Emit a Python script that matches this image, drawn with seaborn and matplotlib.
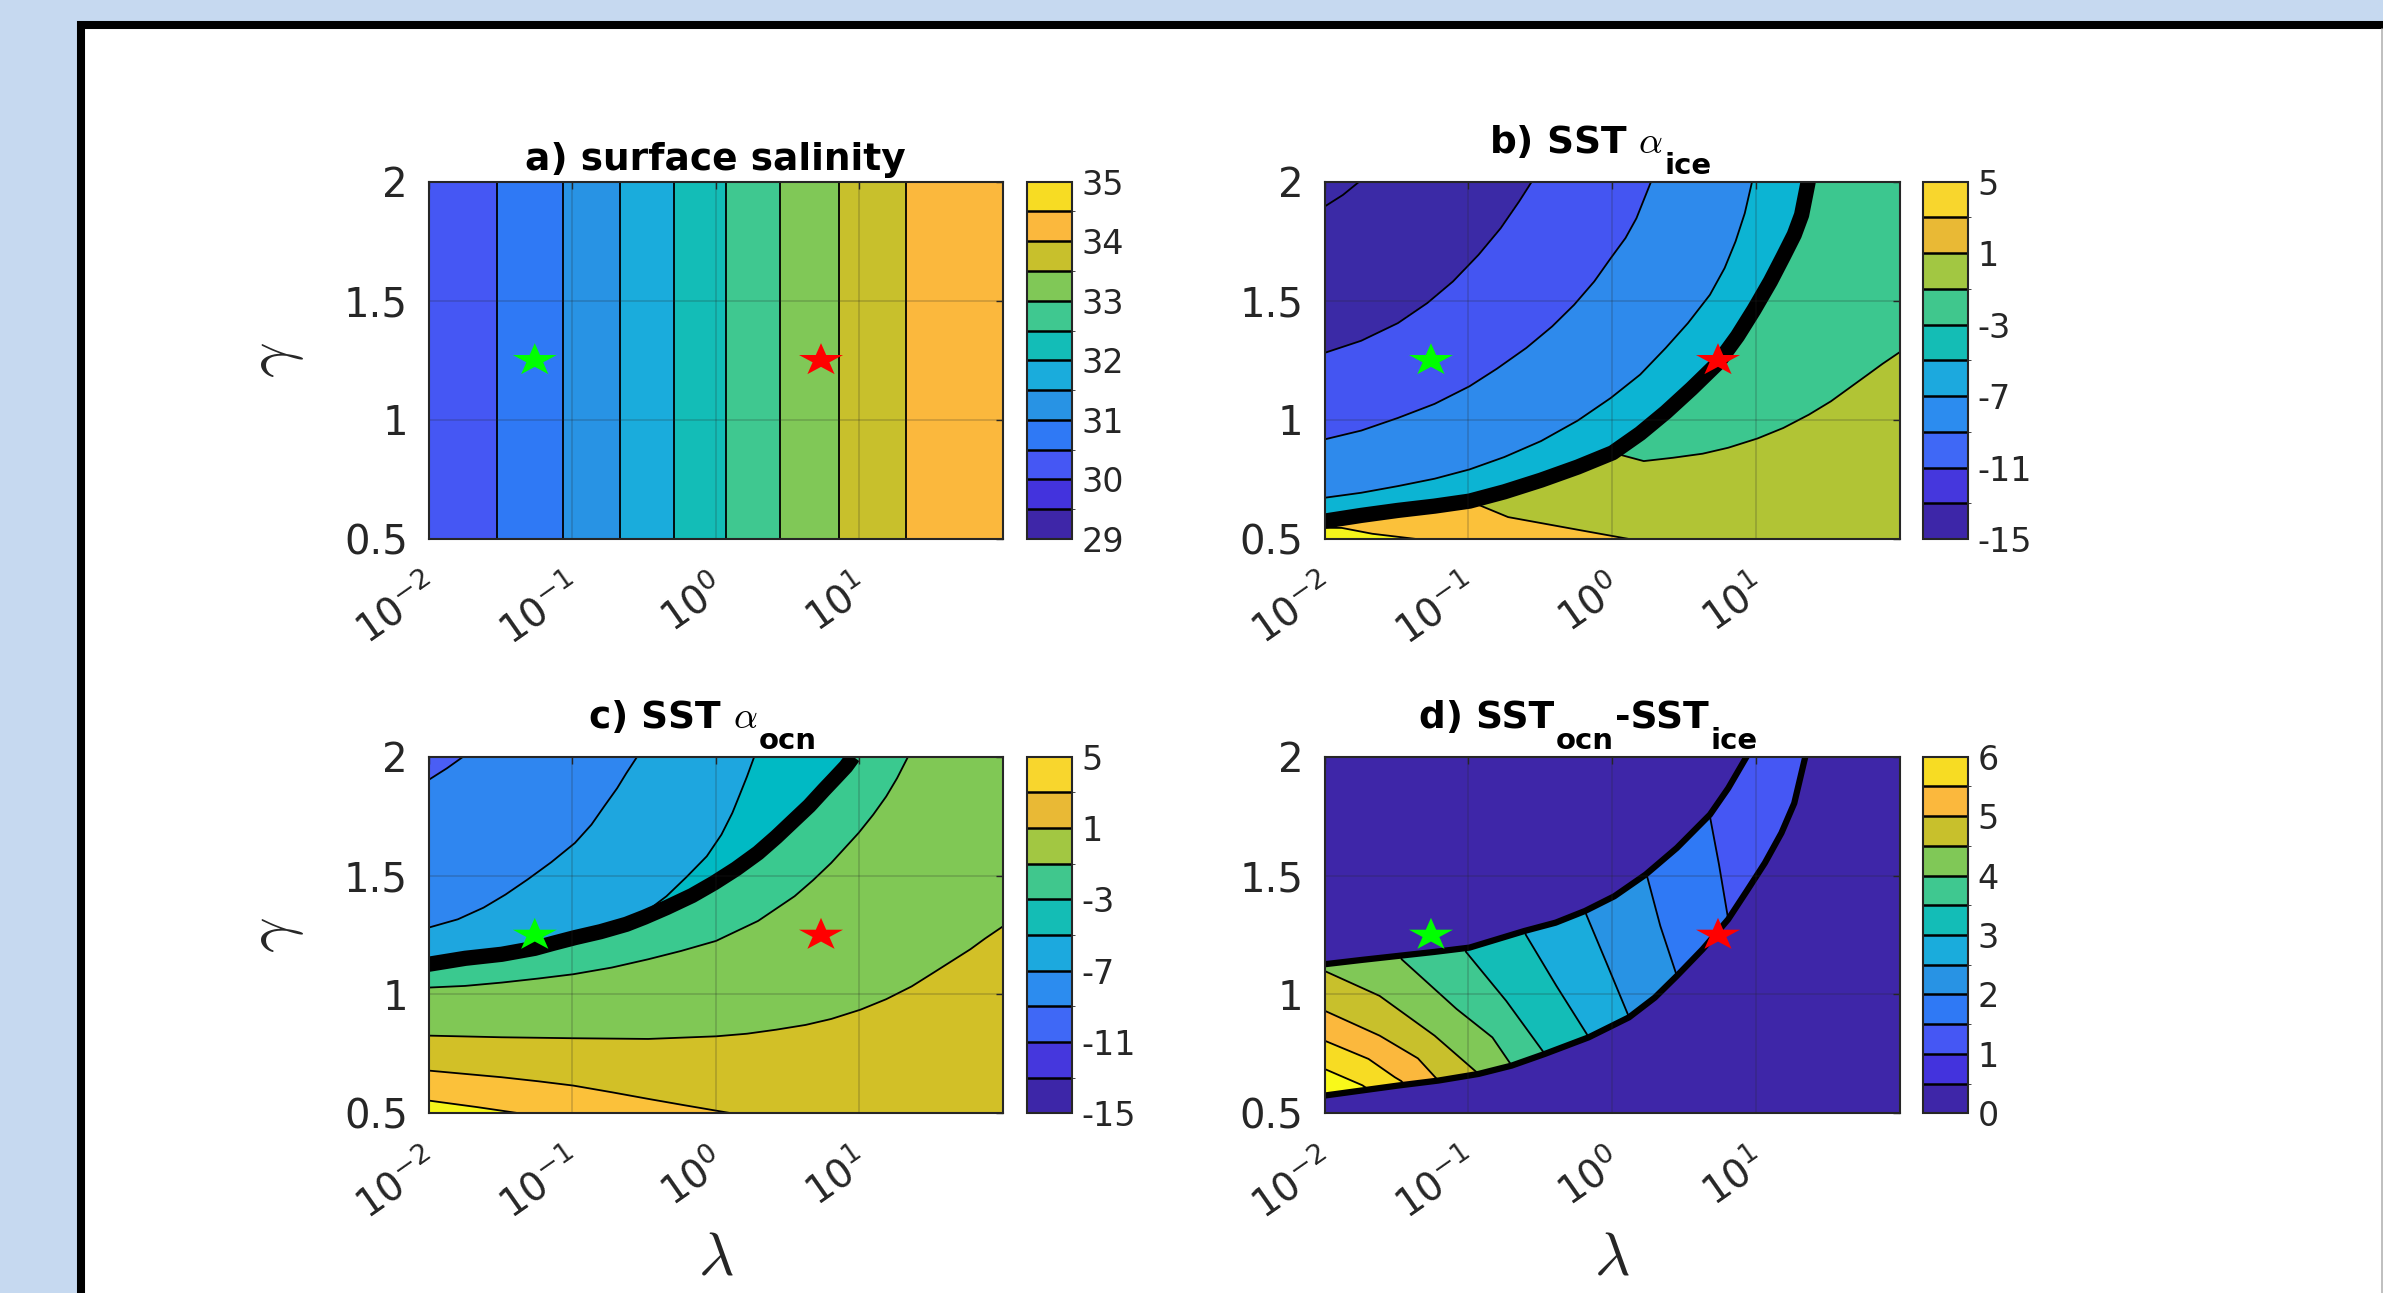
import numpy as np
import matplotlib
matplotlib.use("Agg")
import matplotlib.pyplot as plt
import matplotlib.tri as mtri
from matplotlib.colors import ListedColormap, BoundaryNorm
from matplotlib.cm import ScalarMappable
from matplotlib.path import Path
from matplotlib.markers import MarkerStyle
from matplotlib.transforms import Affine2D, ScaledTranslation
from matplotlib.patches import Rectangle, Polygon
from matplotlib.lines import Line2D
import seaborn as sns

# ============================ DATA ============================
# x axis = log10(lambda), y axis = gamma
lam_tick_exponents = [-2, -1, 0, 1]
gamma_ticks = [0.5, 1.0, 1.5, 2.0]
gamma_tick_labels = ["0.5", "1", "1.5", "2"]

# the two reference points (stars)
star_loglam = [-1.26, 0.735]
star_gamma = [1.25, 1.25]
star_names = ["green", "red"]

# colorbar colours (bottom -> top)
cbar12_colors = ["#3e26a8", "#4333dd", "#4557f4", "#2f79f5", "#2893e4", "#1aacdc",
                 "#13bdb7", "#3fc890", "#80c857", "#c8c02c", "#fbb83d", "#f7dc23"]
cbar10_colors = ["#3d26a8", "#4537dd", "#3f68f6", "#2c8cef", "#1ca9de",
                 "#14bdb5", "#40c78d", "#a2c742", "#e9b935", "#f8d62d"]

# ---- a) surface salinity: depends on lambda only
sal_loglam = [-2.0, -1.52, -1.066, -0.665, -0.291, 0.072, 0.446, 0.857, 1.327, 2.0]
sal_value = [30.08, 30.5, 31.0, 31.5, 32.0, 32.5, 33.0, 33.5, 34.0, 34.42]
sal_levels = [29.0, 29.5, 30.0, 30.5, 31.0, 31.5, 32.0, 32.5, 33.0, 33.5, 34.0, 34.5, 35.0]
sal_cbar_ticks = [29, 30, 31, 32, 33, 34, 35]

# ---- b) SST alpha_ice
b_levels = [-15, -13, -11, -9, -7, -5, -3, -1, 1, 3, 5]
b_cbar_ticks = [-15, -11, -7, -3, 1, 5]
b_fill_colors = ["#3b2aa6", "#4455f2", "#2e8aec", "#0cb4d3", "#14bdb5",
                 "#26c2a2", "#3cc78f", "#b1c435", "#fbc13a", "#f5f51b"]
# ice-covered (cold) side contours
b_m15_lam = [-2.0, -1.872, -1.758]
b_m15_gam = [1.895, 1.944, 2.0]
b_m13_lam = [-2.0, -1.745, -1.490, -1.286, -1.107, -0.929, -0.776, -0.648, -0.559]
b_m13_gam = [1.281, 1.332, 1.406, 1.490, 1.581, 1.693, 1.804, 1.916, 2.0]
b_m11_lam = [-2.0, -1.745, -1.490, -1.235, -0.992, -0.801, -0.597, -0.418, -0.265,
             -0.125, -0.010, 0.092, 0.168, 0.270]
b_m11_gam = [0.918, 0.955, 1.008, 1.067, 1.141, 1.215, 1.302, 1.392, 1.483,
             1.581, 1.679, 1.763, 1.846, 2.0]
b_m9_lam = [-2.0, -1.745, -1.490, -1.235, -0.992, -0.750, -0.495, -0.240, -0.010,
            0.194, 0.372, 0.526, 0.679, 0.781, 0.857, 0.921, 0.972]
b_m9_gam = [0.673, 0.694, 0.722, 0.753, 0.792, 0.844, 0.911, 0.997, 1.092,
            1.190, 1.302, 1.406, 1.525, 1.637, 1.749, 1.867, 2.0]
b_cold_corner_lam = [-2.0]
b_cold_corner_gam = [2.0]
b_cold_corner_val = [-15.3]
# jump (ice edge) line, with the field value on each side of it
b_edge_lam = [-2.0, -1.745, -1.490, -1.235, -0.992, -0.750, -0.495, -0.240, 0.003, 0.194,
              0.372, 0.551, 0.735, 0.870, 0.985, 1.099, 1.189, 1.265, 1.316, 1.362]
b_edge_gam = [0.575, 0.599, 0.620, 0.638, 0.659, 0.698, 0.747, 0.802, 0.862, 0.943,
              1.032, 1.131, 1.239, 1.351, 1.462, 1.581, 1.686, 1.777, 1.860, 2.0]
b_edge_cold = [-8.0, -8.0, -8.0, -8.0, -8.0, -8.0, -8.0, -8.0, -8.0, -8.0,
               -8.0, -8.0, -8.0, -8.0, -8.0, -8.0, -8.0, -8.0, -8.0, -8.0]
b_edge_warm = [2.5, 2.1, 1.7, 1.35, 1.0, 0.6, 0.2, -0.4, -1.0, -1.25,
               -1.4, -1.55, -1.7, -1.85, -2.0, -2.1, -2.2, -2.25, -2.3, -2.4]
# ice-free (warm) side contours
b_m1_lam = [0.219, 0.423, 0.628, 0.806, 1.010, 1.189, 1.367, 1.520, 1.648, 1.776, 1.878, 2.0]
b_m1_gam = [0.827, 0.841, 0.858, 0.883, 0.922, 0.966, 1.022, 1.078, 1.134, 1.190, 1.235, 1.285]
b_p1_lam = [-0.724, -0.469, -0.214, 0.117]
b_p1_gam = [0.592, 0.564, 0.536, 0.5]
b_p3_lam = [-2.0, -1.668, -1.362]
b_p3_gam = [0.547, 0.522, 0.5]
b_warm_corner_lam = [2.0, 2.0, -2.0]
b_warm_corner_gam = [2.0, 0.5, 0.5]
b_warm_corner_val = [-2.1, 0.2, 3.8]

# ---- c) SST alpha_ocn
c_levels = [-15, -13, -11, -9, -7, -5, -3, -1, 1, 3, 5]
c_cbar_ticks = [-15, -11, -7, -3, 1, 5]
c_fill_colors = ["#3d26a8", "#4a5ef5", "#2f86f0", "#1ea6df", "#00bac4",
                 "#3ac98f", "#80c855", "#d2c027", "#fbc13a", "#f5f51b"]
c_m11_lam = [-2.0, -1.872, -1.758]
c_m11_gam = [1.902, 1.951, 2.0]
c_m9_lam = [-2.0, -1.796, -1.617, -1.464, -1.311, -1.145, -0.980, -0.865, -0.776,
            -0.686, -0.622, -0.546]
c_m9_gam = [1.281, 1.316, 1.365, 1.420, 1.483, 1.556, 1.637, 1.714, 1.791,
            1.867, 1.930, 2.0]
c_m7_lam = [-0.469, -0.342, -0.202, -0.061, 0.041, 0.117, 0.168, 0.219, 0.270]
c_m7_gam = [1.355, 1.413, 1.494, 1.581, 1.672, 1.763, 1.839, 1.916, 2.0]
c_cold_corner_lam = [-2.0]
c_cold_corner_gam = [2.0]
c_cold_corner_val = [-11.3]
c_edge_lam = [-2.0, -1.745, -1.490, -1.260, -1.133, -0.980, -0.801, -0.622, -0.495, -0.342,
              -0.163, -0.010, 0.143, 0.296, 0.423, 0.551, 0.653, 0.755, 0.832, 0.908, 0.959]
c_edge_gam = [1.127, 1.152, 1.169, 1.194, 1.215, 1.239, 1.264, 1.295, 1.325, 1.365,
              1.416, 1.469, 1.528, 1.595, 1.662, 1.735, 1.793, 1.860, 1.909, 1.958, 2.0]
c_edge_cold = [-7.8, -7.75, -7.7, -7.6, -7.5, -7.45, -7.3, -7.0, -6.8, -6.6,
               -6.45, -6.3, -6.2, -6.1, -6.05, -6.0, -6.0, -6.0, -6.0, -6.0, -6.0]
c_edge_warm = [-4.0, -4.0, -4.0, -4.0, -4.0, -4.0, -4.0, -4.0, -4.0, -4.0,
               -4.0, -4.0, -4.0, -4.0, -4.0, -4.0, -4.0, -4.0, -4.0, -4.0, -4.0]
c_m3_lam = [-2.0, -1.745, -1.490, -1.235, -0.992, -0.724, -0.469, -0.240, 0.003, 0.296,
            0.551, 0.679, 0.806, 0.997, 1.099, 1.189, 1.265, 1.342]
c_m3_gam = [1.029, 1.036, 1.050, 1.067, 1.085, 1.113, 1.148, 1.183, 1.225, 1.309,
            1.413, 1.480, 1.553, 1.679, 1.756, 1.832, 1.909, 2.0]
c_m1_lam = [-2.0, -1.490, -0.992, -0.469, 0.003, 0.219, 0.423, 0.628, 0.806, 1.010,
            1.189, 1.367, 1.520, 1.648, 1.776, 1.878, 2.0]
c_m1_gam = [0.827, 0.820, 0.816, 0.813, 0.824, 0.835, 0.852, 0.872, 0.897, 0.936,
            0.980, 1.034, 1.092, 1.141, 1.190, 1.235, 1.285]
c_p1_lam = [-2.0, -1.745, -1.490, -1.235, -0.992, -0.724, -0.469, -0.214, -0.010, 0.117]
c_p1_gam = [0.680, 0.666, 0.652, 0.635, 0.617, 0.589, 0.561, 0.534, 0.513, 0.5]
c_p3_lam = [-2.0, -1.668, -1.362]
c_p3_gam = [0.554, 0.527, 0.5]
c_warm_corner_lam = [2.0, 2.0, -2.0]
c_warm_corner_gam = [2.0, 0.5, 0.5]
c_warm_corner_val = [-2.0, 0.0, 3.8]

# ---- d) SST_ocn - SST_ice (non-zero only inside the bistable band)
d_levels = [0.0, 0.5, 1.0, 1.5, 2.0, 2.5, 3.0, 3.5, 4.0, 4.5, 5.0, 5.5, 6.0]
d_cbar_ticks = [0, 1, 2, 3, 4, 5, 6]
d_over_color = "#f9f91a"
d_upper_lam = [-2.0, -1.745, -1.490, -1.235, -0.992, -0.801, -0.610, -0.393, -0.189, 0.015,
               0.232, 0.449, 0.679, 0.806, 0.934]
d_upper_gam = [1.127, 1.145, 1.162, 1.179, 1.197, 1.232, 1.267, 1.302, 1.351, 1.413,
               1.504, 1.616, 1.756, 1.867, 2.0]
d_upper_val = [4.3, 4.15, 4.02, 3.75, 3.48, 3.25, 3.0, 2.75, 2.5, 2.25,
               2.0, 1.75, 1.5, 1.37, 1.27]
d_lower_lam = [-2.0, -1.745, -1.490, -1.209, -0.929, -0.699, -0.469, -0.163, 0.117, 0.296,
               0.449, 0.628, 0.806, 0.934, 1.061, 1.176, 1.265, 1.342]
d_lower_gam = [0.575, 0.596, 0.617, 0.638, 0.666, 0.701, 0.750, 0.820, 0.904, 0.987,
               1.078, 1.190, 1.316, 1.434, 1.553, 1.679, 1.804, 2.0]
d_lower_val = [6.4, 6.1, 5.6, 5.0, 4.5, 4.0, 3.5, 3.0, 2.5, 2.25,
               2.0, 1.75, 1.5, 1.4, 1.3, 1.25, 1.2, 1.15]
d_c15_lam = [0.68, 0.742]
d_c15_gam = [1.745, 1.546]
d_c20_lam = [0.245, 0.334]
d_c20_gam = [1.490, 1.288]
d_c25_lam = [-0.18, -0.036]
d_c25_gam = [1.335, 1.127]
d_c30_lam = [-0.60, -0.388]
d_c30_gam = [1.250, 1.036]
d_c35_lam = [-1.018, -0.737]
d_c35_gam = [1.180, 0.973]
d_c40_lam = [-1.464, -1.082]
d_c40_gam = [1.148, 0.939]
d_c45_lam = [-2.0, -1.617, -1.235]
d_c45_gam = [1.099, 0.994, 0.827]
d_c50_lam = [-2.0, -1.617]
d_c50_gam = [0.932, 0.827]
d_c55_lam = [-2.0, -1.694]
d_c55_gam = [0.806, 0.729]
d_c60_lam = [-2.0]
d_c60_gam = [0.687]

# ============================ STYLE ============================
sns.set_style("white")
plt.rcParams["font.family"] = ["DejaVu Sans"]
plt.rcParams["axes.unicode_minus"] = False
plt.rcParams["mathtext.fontset"] = "dejavusans"
plt.rcParams["contour.negative_linestyle"] = "solid"

FW, FH = 2383, 1293
fig = plt.figure(figsize=(FW / 100, FH / 100), dpi=100)
fig.patch.set_facecolor("#c6d9f0")


def fx(px):
    return px / FW


def fy(py):
    return 1 - py / FH


# white slide panel with black frame
fig.add_artist(Rectangle((fx(81), -0.2), 1.3, fy(25) + 0.2, transform=fig.transFigure,
                         facecolor="white", edgecolor="black", linewidth=5.8, zorder=-5))
fig.add_artist(Line2D([fx(2381.5)] * 2, [0, fy(29)], transform=fig.transFigure,
                      color="#b4b4b4", lw=1.2, zorder=-4))

AX_L = [428.6, 1324.5]
AX_R = [1002.5, 1900.0]
AX_T = [181.6, 756.6]
AX_B = [539.0, 1113.4]
CB_L = [1027.0, 1923.0]
CB_W = 45.0
AXW, AXH = 575.0, 357.0
DARK = "#262626"


def to_px(lam, gam):
    return (np.asarray(lam, float) + 2) / 4 * AXW, (np.asarray(gam, float) - 0.5) / 1.5 * AXH


def build_tri(pieces):
    xs, ys, zs = [], [], []
    for lam, gam, val in pieces:
        lam = np.atleast_1d(np.asarray(lam, float))
        gam = np.atleast_1d(np.asarray(gam, float))
        xs.append(lam)
        ys.append(gam)
        zs.append(np.broadcast_to(np.asarray(val, float), lam.shape))
    x, y, z = map(np.concatenate, (xs, ys, zs))
    u, v = to_px(x, y)
    tris = mtri.Triangulation(u, v).triangles
    return mtri.Triangulation(x, y, triangles=tris), z


def region_fill(ax, pieces, levels, colors, clip_xy, extend, over=None):
    tri, z = build_tri(pieces)
    cm = ListedColormap(colors)
    cm.set_under(colors[0])
    cm.set_over(over if over is not None else colors[-1])
    clip = Polygon(clip_xy, closed=True, transform=ax.transData)
    cf = ax.tricontourf(tri, z, levels=levels, cmap=cm, norm=BoundaryNorm(levels, cm.N),
                        extend=extend)
    cf.set_clip_path(clip)
    cl = ax.tricontour(tri, z, levels=levels, colors="k", linewidths=1.3)
    cl.set_clip_path(clip)


def add_ax(col, row):
    l, r, t, b = AX_L[col], AX_R[col], AX_T[row], AX_B[row]
    return fig.add_axes([fx(l), fy(b), (r - l) / FW, (b - t) / FH])


def style_ax(ax):
    ax.set_xlim(-2, 2)
    ax.set_ylim(0.5, 2)
    ax.set_xticks(lam_tick_exponents)
    ax.set_xticklabels([rf"$10^{{{e}}}$" for e in lam_tick_exponents], rotation=35,
                       ha="right", va="top", rotation_mode="anchor", fontsize=28)
    ax.set_yticks(gamma_ticks)
    ax.set_yticklabels(gamma_tick_labels, fontsize=29)
    ax.tick_params(direction="in", length=5, width=1, top=True, right=True, colors=DARK)
    ax.tick_params(axis="y", pad=15)
    ax.tick_params(axis="x", pad=21)
    shift = ScaledTranslation(-6 / 100, 0, fig.dpi_scale_trans)
    for lab in ax.get_xticklabels():
        lab.set_transform(lab.get_transform() + shift)
    ax.grid(True, color=DARK, alpha=0.22, lw=1.2)
    ax.set_axisbelow(False)
    for sp in ax.spines.values():
        sp.set_color(DARK)
        sp.set_linewidth(1.5)


def add_cbar(col, row, colors, levels, ticks):
    l, t, b = CB_L[col], AX_T[row], AX_B[row]
    cax = fig.add_axes([fx(l), fy(b), CB_W / FW, (b - t) / FH])
    cm = ListedColormap(colors)
    nm = BoundaryNorm(levels, cm.N)
    cb = fig.colorbar(ScalarMappable(norm=nm, cmap=cm), cax=cax, drawedges=True)
    cb.set_ticks(ticks, labels=[f"{tk:g}" for tk in ticks])
    cb.dividers.set_color("k")
    cb.dividers.set_linewidth(1.8)
    cb.outline.set_edgecolor(DARK)
    cb.outline.set_linewidth(1.5)
    cax.tick_params(length=0, labelsize=24, pad=7, colors=DARK)


star_path = Affine2D().scale(1.35, 1.0).transform_path(Path.unit_regular_star(5, 0.381966))
star_marker = MarkerStyle(star_path)


def add_stars(ax):
    sns.scatterplot(x=star_loglam, y=star_gamma, hue=star_names,
                    palette={"green": "#00ff00", "red": "#ff0000"},
                    marker=star_marker, s=1005, edgecolor="none", linewidth=0,
                    legend=False, ax=ax, zorder=10)


MAIN_Y = 1 + 28.6 / AXH
SUB_Y = 1 + 8.0 / AXH


def composite_title(ax, x0, parts):
    prev = None
    for txt, sub in parts:
        kw = dict(ha="left", va="baseline", fontsize=21 if sub else 27,
                  fontweight="bold", color="black", math_fontfamily="cm")
        y = SUB_Y if sub else MAIN_Y
        if prev is None:
            prev = ax.text(x0, y, txt, transform=ax.transAxes, **kw)
        else:
            prev = ax.annotate(txt, xy=(1.0, y), xycoords=(prev, ax.transAxes),
                               xytext=(1.0, 0), textcoords="offset points", **kw)


def gamma_label(ax):
    ax.set_ylabel(r"$\gamma$", fontsize=45, math_fontfamily="cm", color=DARK)
    ax.yaxis.set_label_coords(-0.213, 0.5)


def lambda_label(ax):
    ax.set_xlabel(r"$\lambda$", fontsize=44, math_fontfamily="cm", color=DARK,
                  va="center")
    ax.xaxis.set_label_coords(0.5, (AX_B[1] - 1258.0) / AXH)


# ---------------- a) surface salinity ----------------
ax = add_ax(0, 0)
X, Y = np.meshgrid(sal_loglam, [0.5, 2.0])
Z = np.vstack([sal_value, sal_value])
cm_a = ListedColormap(cbar12_colors)
ax.contourf(X, Y, Z, levels=sal_levels, cmap=cm_a, norm=BoundaryNorm(sal_levels, cm_a.N))
ax.contour(X, Y, Z, levels=sal_levels, colors="k", linewidths=1.3)
add_stars(ax)
style_ax(ax)
ax.text(0.5, 1 + 11.6 / AXH, "a) surface salinity", transform=ax.transAxes, ha="center",
        va="baseline", fontsize=27, fontweight="bold", color="black")
gamma_label(ax)
add_cbar(0, 0, cbar12_colors, sal_levels, sal_cbar_ticks)

# ---------------- b) SST alpha_ice ----------------
ax = add_ax(1, 0)
b_edge = list(zip(b_edge_lam, b_edge_gam))
region_fill(ax, [(b_m15_lam, b_m15_gam, -15), (b_m13_lam, b_m13_gam, -13),
                 (b_m11_lam, b_m11_gam, -11), (b_m9_lam, b_m9_gam, -9),
                 (b_cold_corner_lam, b_cold_corner_gam, b_cold_corner_val),
                 (b_edge_lam, b_edge_gam, b_edge_cold)],
            b_levels, b_fill_colors, b_edge + [(-2.0, 2.0)], "both")
region_fill(ax, [(b_edge_lam, b_edge_gam, b_edge_warm),
                 (b_m1_lam, b_m1_gam, -1), (b_p1_lam, b_p1_gam, 1), (b_p3_lam, b_p3_gam, 3),
                 (b_warm_corner_lam, b_warm_corner_gam, b_warm_corner_val)],
            b_levels, b_fill_colors, b_edge + [(2.0, 2.0), (2.0, 0.5), (-2.0, 0.5)], "both")
ax.plot(b_edge_lam, b_edge_gam, color="k", lw=11, solid_capstyle="butt",
        solid_joinstyle="round")
add_stars(ax)
style_ax(ax)
composite_title(ax, 0.285, [(r"b) SST $\alpha$", False), ("ice", True)])
add_cbar(1, 0, cbar10_colors, b_levels, b_cbar_ticks)

# ---------------- c) SST alpha_ocn ----------------
ax = add_ax(0, 1)
c_edge = list(zip(c_edge_lam, c_edge_gam))
region_fill(ax, [(c_m11_lam, c_m11_gam, -11), (c_m9_lam, c_m9_gam, -9),
                 (c_m7_lam, c_m7_gam, -7),
                 (c_cold_corner_lam, c_cold_corner_gam, c_cold_corner_val),
                 (c_edge_lam, c_edge_gam, c_edge_cold)],
            c_levels, c_fill_colors, c_edge + [(-2.0, 2.0)], "both")
region_fill(ax, [(c_edge_lam, c_edge_gam, c_edge_warm),
                 (c_m3_lam, c_m3_gam, -3), (c_m1_lam, c_m1_gam, -1),
                 (c_p1_lam, c_p1_gam, 1), (c_p3_lam, c_p3_gam, 3),
                 (c_warm_corner_lam, c_warm_corner_gam, c_warm_corner_val)],
            c_levels, c_fill_colors, c_edge + [(2.0, 2.0), (2.0, 0.5), (-2.0, 0.5)], "both")
ax.plot(c_edge_lam, c_edge_gam, color="k", lw=11, solid_capstyle="butt",
        solid_joinstyle="round")
add_stars(ax)
style_ax(ax)
composite_title(ax, 0.277, [(r"c) SST $\alpha$", False), ("ocn", True)])
gamma_label(ax)
lambda_label(ax)
add_cbar(0, 1, cbar10_colors, c_levels, c_cbar_ticks)

# ---------------- d) SST_ocn - SST_ice ----------------
ax = add_ax(1, 1)
ax.set_facecolor(cbar12_colors[0])          # value 0 outside the bistable band
band = list(zip(d_upper_lam, d_upper_gam)) + list(zip(d_lower_lam, d_lower_gam))[::-1]
region_fill(ax, [(d_upper_lam, d_upper_gam, d_upper_val), (d_lower_lam, d_lower_gam, d_lower_val),
                 (d_c15_lam, d_c15_gam, 1.5), (d_c20_lam, d_c20_gam, 2.0),
                 (d_c25_lam, d_c25_gam, 2.5), (d_c30_lam, d_c30_gam, 3.0),
                 (d_c35_lam, d_c35_gam, 3.5), (d_c40_lam, d_c40_gam, 4.0),
                 (d_c45_lam, d_c45_gam, 4.5), (d_c50_lam, d_c50_gam, 5.0),
                 (d_c55_lam, d_c55_gam, 5.5), (d_c60_lam, d_c60_gam, 6.0)],
            d_levels, cbar12_colors, band, "max", over=d_over_color)
ax.plot(d_upper_lam, d_upper_gam, color="k", lw=4.5, solid_joinstyle="round")
ax.plot(d_lower_lam, d_lower_gam, color="k", lw=4.5, solid_joinstyle="round")
add_stars(ax)
style_ax(ax)
composite_title(ax, 0.165, [("d) SST", False), ("ocn", True), ("-SST", False), ("ice", True)])
lambda_label(ax)
add_cbar(1, 1, cbar12_colors, d_levels, d_cbar_ticks)

fig.savefig("out.png", dpi=100, facecolor=fig.get_facecolor())
